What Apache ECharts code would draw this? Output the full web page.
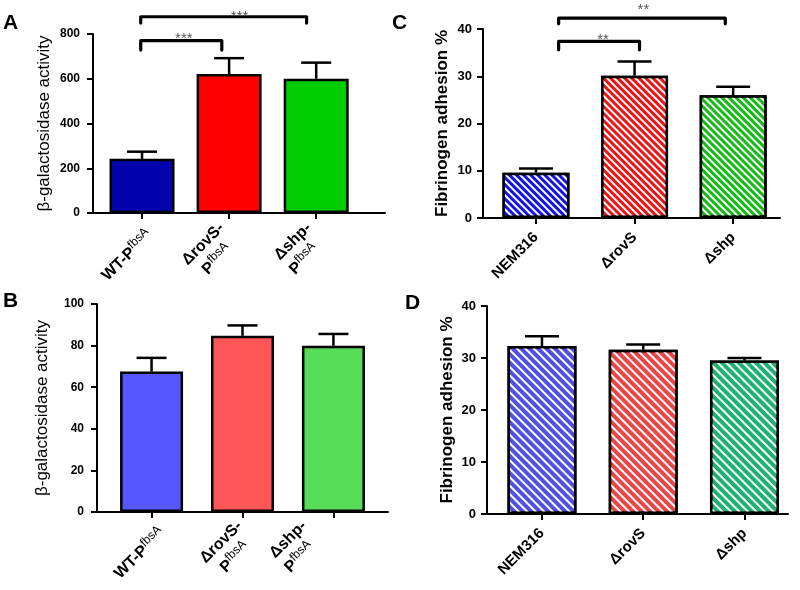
<!DOCTYPE html>
<html>
<head>
<meta charset="utf-8">
<script src="https://cdn.jsdelivr.net/npm/echarts@6/dist/echarts.min.js"></script>
<style>html,body{margin:0;padding:0;background:#fff}#c{width:800px;height:590px}</style>
</head>
<body>
<div id="c"></div>
<script>
// ---- data ----
const catsAB = ['WT-P_fbsA', 'ΔrovS-\nP_fbsA', 'Δshp-\nP_fbsA'];
const catsCD = ['NEM316', 'ΔrovS', 'Δshp'];
const valA = [242, 621, 600];
const errA = [32, 71, 72];
const valB = [67.5, 84.7, 79.9];
const errB = [6.6, 5.0, 5.7];
const valC = [9.6, 30.1, 26.0];
const errC = [0.9, 3.0, 1.8];
const valD = [32.3, 31.6, 29.5];
const errD = [1.9, 1.0, 0.5];
const ticksA = [0, 200, 400, 600, 800];
const ticksB = [0, 20, 40, 60, 80, 100];
const ticksCD = [0, 10, 20, 30, 40];
// brackets: [xLeft, xRight, yTop, yLegBottom, starX, starY, starLabel]
const bracketsA = [[-0.015, 0.916, 770, 728, 0.48, 797, '***'], [-0.015, 1.89, 877, 849, 1.12, 893, '***']];
const bracketsC = [[0.23, 1.05, 37.4, 35.6, 0.68, 38.6, '**'], [0.23, 1.92, 42.3, 41.1, 1.09, 44.9, '**']];

// ---- styles ----
const colA = ['#0202AE', '#FF0000', '#00CC00'];
const colB = ['#5757FF', '#FF5757', '#57DD57'];
const colC = ['#1414E6', '#EE1414', '#14BB14'];
const colD = ['#5050E4', '#EC4545', '#1DB274'];
const FONT = 'Liberation Sans, Arial, Helvetica, sans-serif';

function richLabel(s) {
  return s.split('\n').map((line, li, arr) => {
    const parts = line.split('_');
    let out = '{b|' + parts[0] + '}';
    if (parts[1]) out += '{s|' + parts[1] + '}';
    if (arr.length > 1 && li === 1) out += '{sp| }';
    return out;
  }).join('\n');
}

const grids = [
  {left: 93, top: 34, width: 292, height: 179},
  {left: 97, top: 304, width: 291, height: 208},
  {left: 483, top: 29, width: 297, height: 189},
  {left: 487, top: 306, width: 301, height: 208}
];
const xRanges = [[-0.563, 2.79], [-0.6, 2.6], [-0.537, 2.475], [-0.543, 2.43]];
const cats = [catsAB, catsAB, catsCD, catsCD];
// label anchor offsets (in band units) relative to the ticks
const labelShift = [[0.09, 0, 0], [0.12, 0.05, -0.24], [0, 0, 0], [0, 0, 0]];
const labelSize = [16, 16, 15, 15];
const subSize = [12, 12, 12, 12];
const labelMargin = [20, 19, 17, 17];
const tickFont = [12, 12, 13, 13];
const tickMargin = [13, 13, 11, 11];

const xAxis = grids.map((g, i) => ({
  type: 'value', gridIndex: i, min: xRanges[i][0], max: xRanges[i][1],
  splitLine: {show: false},
  axisLine: {show: true, onZero: true, lineStyle: {color: '#000', width: 2}},
  axisTick: {show: true, customValues: [0, 1, 2], length: 6, lineStyle: {color: '#000', width: 2}},
  axisLabel: {
    customValues: [0, 1, 2].map(k => k + labelShift[i][k]), rotate: 45, margin: labelMargin[i], interval: 0,
    formatter: v => richLabel(cats[i][Math.round(v)]),
    rich: {
      b: {fontFamily: FONT, fontWeight: 'bold', fontSize: labelSize[i], color: '#000', lineHeight: 21},
      s: {fontFamily: FONT, fontSize: subSize[i], color: '#000', lineHeight: 21, verticalAlign: 'top'},
      sp: {fontSize: 10, width: 10, lineHeight: 21}
    }
  }
}));

const yInfo = [
  {max: 800, interval: 200, name: 'β-galactosidase activity', bold: false, gap: 40},
  {max: 100, interval: 20, name: 'β-galactosidase activity', bold: false, gap: 46},
  {max: 40, interval: 10, name: 'Fibrinogen adhesion %', bold: true, gap: 32},
  {max: 40, interval: 10, name: 'Fibrinogen adhesion %', bold: true, gap: 31}
];
const yAxis = yInfo.map((y, i) => ({
  type: 'value', gridIndex: i, min: 0, max: y.max, interval: y.interval,
  splitLine: {show: false},
  axisLine: {show: true, onZero: false, lineStyle: {color: '#000', width: 2}},
  axisTick: {show: true, length: 6, lineStyle: {color: '#000', width: 2}},
  axisLabel: {fontFamily: FONT, fontWeight: 'bold', fontSize: tickFont[i], color: '#000', margin: tickMargin[i]},
  name: y.name, nameLocation: 'middle', nameRotate: 90, nameGap: y.gap,
  nameTextStyle: {fontFamily: FONT, fontWeight: y.bold ? 'bold' : 'normal', fontSize: 17, color: '#000'}
}));

const decalC = {symbol: 'rect', symbolSize: 1, color: '#ffffff', dashArrayX: [1, 0], dashArrayY: [2, 3], rotation: Math.PI / 4};
const decalD = {symbol: 'rect', symbolSize: 1, color: '#ffffff', dashArrayX: [1, 0], dashArrayY: [2, 4], rotation: Math.PI / 4};

const panels = [
  {vals: valA, errs: errA, cols: colA, bw: 65, cap: 15, decal: null},
  {vals: valB, errs: errB, cols: colB, bw: 63, cap: 15, decal: null},
  {vals: valC, errs: errC, cols: colC, bw: 67, cap: 17, decal: decalC},
  {vals: valD, errs: errD, cols: colD, bw: 69, cap: 17, decal: decalD}
];

const series = [];
panels.forEach((p, i) => {
  series.push({
    type: 'custom', xAxisIndex: i, yAxisIndex: i, z: 1, silent: true,
    data: p.vals.map((v, k) => [k, v, p.errs[k]]),
    renderItem: (params, api) => {
      const a = api.coord([api.value(0), api.value(1)]);
      const b = api.coord([api.value(0), api.value(1) + api.value(2)]);
      const st = {stroke: '#000', lineWidth: 2.5};
      return {type: 'group', children: [
        {type: 'line', shape: {x1: a[0], y1: a[1], x2: b[0], y2: b[1]}, style: st},
        {type: 'line', shape: {x1: b[0] - p.cap, y1: b[1], x2: b[0] + p.cap, y2: b[1]}, style: st}
      ]};
    }
  });
  series.push({
    type: 'bar', xAxisIndex: i, yAxisIndex: i, z: 2, barWidth: p.bw, silent: true,
    data: p.vals.map((v, k) => ({
      value: [k, v],
      itemStyle: Object.assign({color: p.cols[k], borderColor: '#000', borderWidth: 2.5}, p.decal ? {decal: p.decal} : {})
    }))
  });
});

function bracketSeries(idx, data) {
  return {
    type: 'custom', xAxisIndex: idx, yAxisIndex: idx, clip: false, silent: true, z: 5,
    data: data.map(d => d.slice(0, 6)),
    renderItem: (params, api) => {
      const l0 = api.coord([api.value(0), api.value(3)]);
      const l1 = api.coord([api.value(0), api.value(2)]);
      const r1 = api.coord([api.value(1), api.value(2)]);
      const r0 = api.coord([api.value(1), api.value(3)]);
      const s = api.coord([api.value(4), api.value(5)]);
      return {type: 'group', children: [
        {type: 'polyline', shape: {points: [l0, l1, r1, r0]},
          style: {stroke: '#000', lineWidth: 3.2, fill: null, lineJoin: 'round', lineCap: 'round'}},
        {type: 'text', x: s[0], y: s[1] + 4,
          style: {text: data[params.dataIndex][6], fontFamily: FONT, fontSize: 15, fill: '#555', align: 'center', verticalAlign: 'middle'}}
      ]};
    }
  };
}
series.push(bracketSeries(0, bracketsA));
series.push(bracketSeries(2, bracketsC));

const letter = (t, x, y) => ({type: 'text', left: x, top: y,
  style: {text: t, fontFamily: FONT, fontWeight: 'bold', fontSize: 21, fill: '#000'}});

const chart = echarts.init(document.getElementById('c'), null, {renderer: 'canvas'});
chart.setOption({
  animation: false,
  backgroundColor: '#fff',
  grid: grids,
  xAxis: xAxis,
  yAxis: yAxis,
  series: series,
  graphic: [letter('A', 3, 13), letter('B', 3, 291), letter('C', 392, 13), letter('D', 405, 293)]
});
</script>
</body>
</html>
